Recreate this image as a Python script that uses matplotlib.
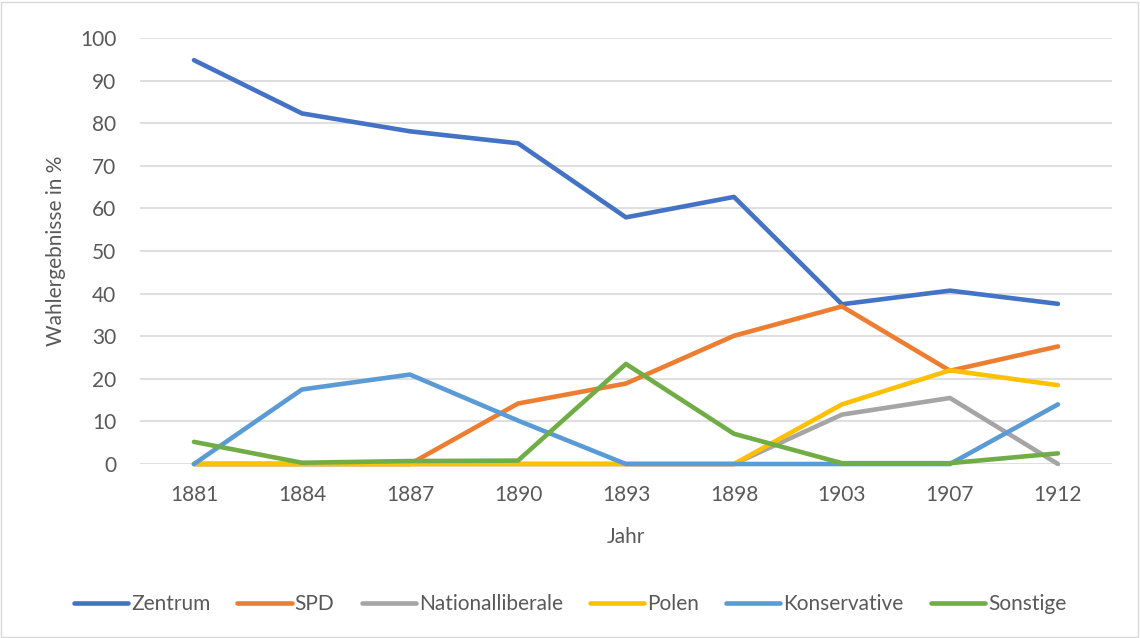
import matplotlib.pyplot as plt
from matplotlib.patches import Rectangle

# Data
years = ["1881", "1884", "1887", "1890", "1893", "1898", "1903", "1907", "1912"]
zentrum = [94.8, 82.3, 78.1, 75.3, 57.9, 62.7, 37.5, 40.7, 37.6]
spd = [0, 0, 0, 14.2, 18.9, 30.1, 37.0, 21.9, 27.6]
nationalliberale = [0, 0, 0, 0, 0, 0, 11.6, 15.5, 0]
polen = [0, 0, 0, 0, 0, 0, 14.0, 22.0, 18.5]
konservative = [0, 17.5, 21.0, 10.2, 0, 0, 0, 0, 14.0]
sonstige = [5.2, 0.3, 0.7, 0.8, 23.5, 7.1, 0.2, 0.2, 2.5]

series = [
    ("Zentrum", zentrum, "#4472c4"),
    ("SPD", spd, "#ed7d31"),
    ("Nationalliberale", nationalliberale, "#a5a5a5"),
    ("Polen", polen, "#ffc000"),
    ("Konservative", konservative, "#5b9bd5"),
    ("Sonstige", sonstige, "#70ad47"),
]

text_color = "#595959"
plt.rcParams['font.family'] = ['Lato', 'DejaVu Sans']

fig = plt.figure(figsize=(11.4, 6.38), dpi=100)
ax = fig.add_axes([0.1228, 0.2727, 0.8526, 0.6677])

x = list(range(len(years)))
for name, vals, color in series:
    ax.plot(x, vals, color=color, linewidth=3.3, solid_capstyle='round',
            solid_joinstyle='round', label=name, clip_on=False)

ax.set_xlim(-0.5, len(years) - 0.5)
ax.set_ylim(0, 100)
ax.set_yticks(range(0, 101, 10))
ax.set_xticks(x)
ax.set_xticklabels(years)
ax.grid(axis='y', color='#d9d9d9', linewidth=1.2)
ax.set_axisbelow(True)
for s in ax.spines.values():
    s.set_visible(False)
ax.tick_params(length=0, colors=text_color, labelsize=15)
ax.tick_params(axis='x', pad=15)
ax.tick_params(axis='y', pad=17)

ax.set_xlabel("Jahr", color=text_color, fontsize=15, labelpad=16)
ax.set_ylabel("Wahlergebnisse in %", color=text_color, fontsize=15, labelpad=10)

leg = fig.legend(loc='center', bbox_to_anchor=(0.5, 0.053), ncol=6, frameon=False,
                 fontsize=15, handlelength=2.6, columnspacing=1.3, handletextpad=0.15)
for t in leg.get_texts():
    t.set_color(text_color)

fig.patches.append(Rectangle((0.001, 0.002), 0.997, 0.995, transform=fig.transFigure,
                             fill=False, edgecolor='#d9d9d9', linewidth=1))

fig.savefig("out.png", dpi=100)
